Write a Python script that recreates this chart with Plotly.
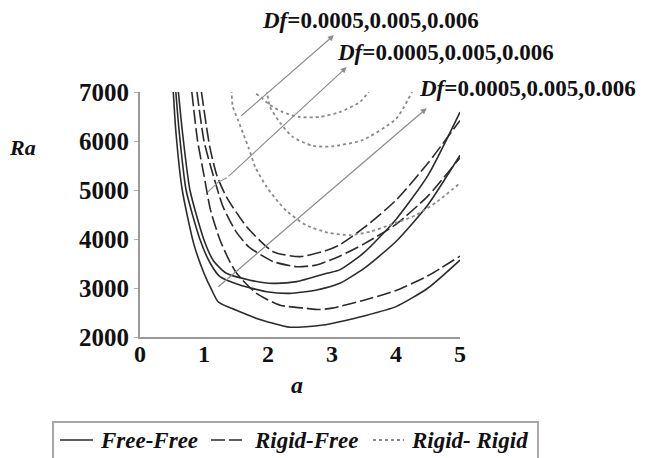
import plotly.graph_objects as go

# ---------------- data ----------------
ff1_a  = [0.52, 0.56, 0.66, 0.84, 1.0, 1.12, 1.22, 1.4, 1.56, 1.8, 2.08, 2.34, 2.6, 2.86, 3.12, 3.5, 4.0, 4.5, 5.0]
ff1_ra = [7000, 6200, 5000, 3900, 3300, 2960, 2720, 2600, 2517, 2390, 2280, 2200, 2210, 2245, 2313, 2430, 2620, 3000, 3570]

ff2_a  = [0.56, 0.61, 0.72, 0.94, 1.1, 1.25, 1.56, 1.98, 2.34, 2.76, 3.12, 3.5, 4.0, 4.5, 5.0]
ff2_ra = [7000, 6220, 5000, 3980, 3500, 3231, 3061, 2925, 2891, 2959, 3095, 3400, 3950, 4700, 5710]

ff3_a  = [0.6, 0.66, 0.78, 1.0, 1.15, 1.35, 1.72, 2.08, 2.45, 2.92, 3.12, 3.5, 4.0, 4.5, 5.0]
ff3_ra = [7000, 6220, 5000, 3980, 3550, 3300, 3160, 3095, 3130, 3300, 3370, 3720, 4400, 5300, 6590]

rf1_a  = [0.81, 0.9, 1.0, 1.1, 1.25, 1.38, 1.51, 1.82, 2.19, 2.6, 2.8, 3.0, 3.5, 4.0, 4.5, 5.0]
rf1_ra = [7000, 6000, 5300, 4600, 3980, 3600, 3300, 2890, 2650, 2585, 2560, 2590, 2750, 2950, 3250, 3650]

rf2_a  = [0.89, 1.0, 1.1, 1.3, 1.5, 1.7, 2.08, 2.45, 2.76, 3.12, 3.5, 4.0, 4.5, 5.0]
rf2_ra = [7000, 6000, 5500, 4650, 4150, 3840, 3540, 3435, 3470, 3650, 3900, 4300, 4880, 5660]

rf3_a  = [0.96, 1.09, 1.2, 1.35, 1.67, 2.08, 2.5, 2.92, 3.12, 3.5, 4.0, 4.5, 5.0]
rf3_ra = [7000, 5880, 5300, 4860, 4245, 3740, 3640, 3770, 3880, 4230, 4790, 5550, 6420]

rr1_a  = [1.43, 1.45, 1.53, 1.61, 1.7, 1.8, 1.98, 2.16, 2.31, 2.6, 2.97, 3.28, 3.6, 3.91, 4.3, 4.64, 5.0]
rr1_ra = [7050, 6700, 6430, 6160, 5850, 5470, 5060, 4755, 4550, 4280, 4120, 4080, 4150, 4290, 4480, 4760, 5140]

rr2_a  = [1.98, 2.03, 2.19, 2.39, 2.7, 3.0, 3.48, 4.0, 4.25]
rr2_ra = [7050, 6700, 6370, 6080, 5900, 5890, 6020, 6450, 7000]

rr3_a  = [1.75, 1.8, 1.9, 2.03, 2.23, 2.5, 2.81, 3.12, 3.44, 3.6]
rr3_ra = [7050, 6980, 6880, 6735, 6590, 6490, 6490, 6590, 6800, 7050]

# arrows: (tail a, tail Ra, head a, head Ra)
arrows = [
    (1.56, 6490, 3.03, 8160),
    (1.36, 5250, 3.23, 7510),
    (1.20, 3000, 4.48, 6670),
]
arrow2_start_a  = [1.06, 1.22, 1.36]
arrow2_start_ra = [4960, 5160, 5250]

label_text = "<b><i>Df</i>=0.0005,0.005,0.006</b>"

x_ticks = [0, 1, 2, 3, 4, 5]
y_ticks = [2000, 3000, 4000, 5000, 6000, 7000]

legend_names = ["Free-Free", "Rigid-Free", "Rigid- Rigid"]

# ---------------- layout helpers (pixel -> paper) ----------------
W, H = 650, 458
L, R, T, B = 140, 190, 92, 121
PW, PH = W - L - R, H - T - B


def px(xp):
    return (xp - L) / PW


def py(yp):
    return (H - B - yp) / PH


FONT = "Liberation Serif"
fig = go.Figure()

solid = dict(color="#2b2b2b", width=1.6)
dashed = dict(color="#2b2b2b", width=1.6, dash="14px,4px")
dotted = dict(color="#8a8a8a", width=1.8, dash="dot")
styles = [solid, dashed, dotted]

groups = [
    (legend_names[0], solid, [(ff1_a, ff1_ra), (ff2_a, ff2_ra), (ff3_a, ff3_ra)]),
    (legend_names[1], dashed, [(rf1_a, rf1_ra), (rf2_a, rf2_ra), (rf3_a, rf3_ra)]),
    (legend_names[2], dotted, [(rr1_a, rr1_ra), (rr2_a, rr2_ra), (rr3_a, rr3_ra)]),
]
for name, style, curves in groups:
    for xa, ya in curves:
        fig.add_trace(go.Scatter(
            x=xa, y=ya, mode="lines", line=dict(shape="spline", smoothing=0.6, **style),
            name=name, showlegend=False,
        ))

# wavy start of arrow 2
fig.add_trace(go.Scatter(x=arrow2_start_a, y=arrow2_start_ra, mode="lines",
                         line=dict(color="#9a9a9a", width=1.2), showlegend=False,
                         hoverinfo="skip"))

for (ta, tr, ha, hr) in arrows:
    fig.add_annotation(x=ha, y=hr, ax=ta, ay=tr, xref="x", yref="y", axref="x", ayref="y",
                       showarrow=True, arrowhead=2, arrowsize=1, arrowwidth=1.2,
                       arrowcolor="#8c8c8c", text="")

for (lx, ly) in [(260, 20), (335, 52), (417, 88)]:
    fig.add_annotation(x=px(lx), y=py(ly), xref="paper", yref="paper", text=label_text,
                       showarrow=False, xanchor="left", yanchor="middle",
                       font=dict(family=FONT, size=23, color="#111"))

# axis titles
fig.add_annotation(x=px(22), y=py(147), xref="paper", yref="paper", text="<b><i>Ra</i></b>",
                   showarrow=False, xanchor="center", yanchor="middle",
                   font=dict(family=FONT, size=22, color="#111"))
fig.add_annotation(x=px(297), y=py(385), xref="paper", yref="paper", text="<b><i>a</i></b>",
                   showarrow=False, xanchor="center", yanchor="middle",
                   font=dict(family=FONT, size=24, color="#111"))

# ---------------- legend (drawn by hand, box runs off the bottom) ----------------
fig.add_shape(type="rect", xref="paper", yref="paper",
              x0=px(53), x1=px(538), y0=py(422), y1=py(475),
              line=dict(color="#a8a8a8", width=2), fillcolor="rgba(0,0,0,0)")
leg_y = 440
leg_items = [(60, 93, 98), (211, 242, 252), (373, 404, 409)]
for (x0, x1, tx), name, st in zip(leg_items, legend_names, styles):
    fig.add_shape(type="line", xref="paper", yref="paper",
                  x0=px(x0), x1=px(x1), y0=py(leg_y), y1=py(leg_y),
                  line=dict(color=st["color"], width=st["width"], dash=st.get("dash", "solid")))
    fig.add_annotation(x=px(tx), y=py(leg_y), xref="paper", yref="paper",
                       text="<b><i>%s</i></b>" % name, showarrow=False,
                       xanchor="left", yanchor="middle",
                       font=dict(family=FONT, size=23, color="#111"))

fig.update_xaxes(range=[0, 5], tickvals=x_ticks, ticktext=[str(v) for v in x_ticks],
                 showgrid=False, zeroline=False, showline=True, linecolor="#9a9a9a", linewidth=2,
                 ticks="", ticklabelstandoff=-6,
                 tickfont=dict(family=FONT, size=24, color="#111", weight="bold"))
fig.update_yaxes(range=[2000, 7000], tickvals=y_ticks, ticktext=[str(v) for v in y_ticks],
                 showgrid=False, zeroline=False, showline=True, linecolor="#9a9a9a", linewidth=2,
                 ticks="outside", ticklen=4, tickcolor="#b0b0b0",
                 tickfont=dict(family=FONT, size=25, color="#111", weight="bold"))

fig.update_layout(
    width=W, height=H,
    margin=dict(l=L, r=R, t=T, b=B, autoexpand=False),
    paper_bgcolor="white", plot_bgcolor="white",
    showlegend=False,
)

fig.write_html("out.html")
